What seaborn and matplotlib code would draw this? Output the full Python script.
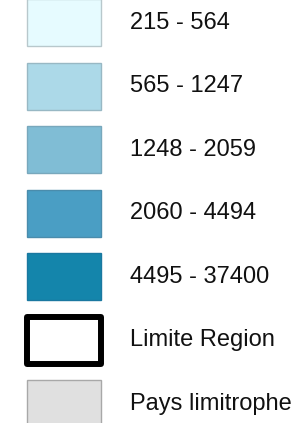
import matplotlib
matplotlib.use("Agg")
import matplotlib.pyplot as plt
import seaborn as sns
import pandas as pd

labels = ["215 - 564", "565 - 1247", "1248 - 2059", "2060 - 4494",
          "4495 - 37400", "Limite Region", "Pays limitrophe"]
fills = ["#e6fbff", "#acd9e8", "#80bdd5", "#4a9ec4", "#1485ab", "#ffffff", "#e0e0e0"]
edges = ["#b8c8cc", "#98b8c4", "#78a8bc", "#4a8cac", "#1a78a0", "#000000", "#a8a8a8"]
widths = [1.0, 1.0, 1.0, 1.0, 1.0, 4.3, 1.0]

sns.set_theme(style="white")
plt.rcParams['font.family'] = ['Liberation Sans', 'DejaVu Sans']

df = pd.DataFrame({"label": labels, "w": [74] * len(labels)})

fig = plt.figure(figsize=(2.93, 4.23), dpi=100)
ax = fig.add_axes([0, 0, 1, 1])
sns.barplot(data=df, y="label", x="w", hue="label", palette=fills,
            orient="h", width=0.74, legend=False, ax=ax, dodge=False,
            saturation=1)

for i, p in enumerate(ax.patches):
    p.set_edgecolor(edges[i])
    p.set_linewidth(widths[i])
    if i == 5:
        p.set_joinstyle("round")

for i, lab in enumerate(labels):
    ax.text(103, i, lab, va="center", ha="left", fontsize=17, color="#111111")

ax.set_xlim(-27, 266)
ax.set_ylim(6.30, -0.36)
ax.axis("off")
fig.savefig("out.png", dpi=100, facecolor="white")
